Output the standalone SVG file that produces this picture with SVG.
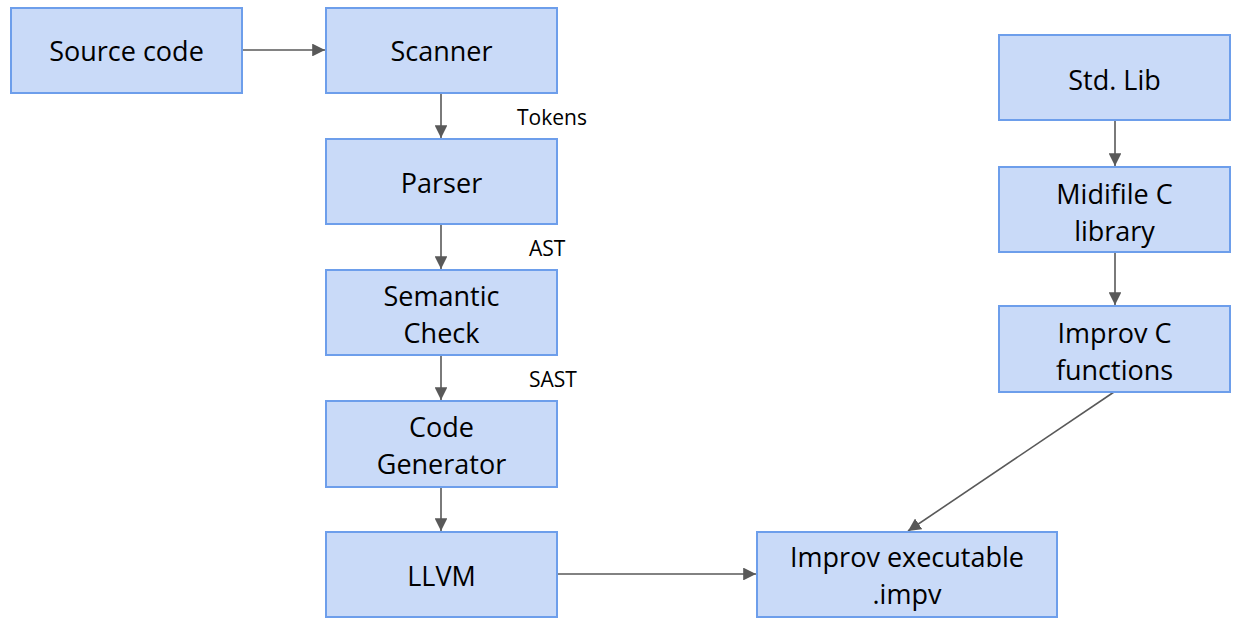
<svg xmlns="http://www.w3.org/2000/svg" width="1233" height="619" viewBox="0 0 1233 619">
<defs>
<style>
.box{fill:#c9daf8;stroke:#6d9eeb;stroke-width:2}
.t{font-family:"Open Sans","Liberation Sans",sans-serif;font-size:27px;fill:#000;text-anchor:middle;dominant-baseline:central}
.l{font-family:"Open Sans","Liberation Sans",sans-serif;font-size:21px;fill:#000;dominant-baseline:central}
.c{stroke:#595959;stroke-width:1.6;fill:none;marker-end:url(#ah)}
</style>
<marker id="ah" viewBox="0 0 10 10" refX="10" refY="5" markerWidth="8" markerHeight="8" orient="auto" markerUnits="strokeWidth">
<path d="M0,0 L10,5 L0,10 z" fill="#595959"/>
</marker>
</defs>
<rect width="1233" height="619" fill="#fff"/>
<g id="connectors">
<line class="c" x1="242" y1="50" x2="325" y2="50"/>
<line class="c" x1="441" y1="93" x2="441" y2="138"/>
<line class="c" x1="441" y1="224" x2="441" y2="269"/>
<line class="c" x1="441" y1="355" x2="441" y2="400"/>
<line class="c" x1="441" y1="487" x2="441" y2="531"/>
<line class="c" x1="557" y1="574" x2="756" y2="574"/>
<line class="c" x1="1115" y1="120" x2="1115" y2="166"/>
<line class="c" x1="1115" y1="252" x2="1115" y2="305"/>
<line class="c" x1="1114" y1="392" x2="908" y2="531"/>
<text class="l" x="517" y="117">Tokens</text>
<text class="l" x="529" y="248">AST</text>
<text class="l" x="529" y="379">SAST</text>
</g>
<g id="source"><rect class="box" x="11" y="8" width="231" height="85"/><text class="t" x="126.5" y="50">Source code</text></g>
<g id="scanner"><rect class="box" x="326" y="8" width="231" height="85"/><text class="t" x="441.5" y="50">Scanner</text></g>
<g id="parser"><rect class="box" x="326" y="139" width="231" height="85"/><text class="t" x="441.5" y="182">Parser</text></g>
<g id="semantic"><rect class="box" x="326" y="270" width="231" height="85"/><text class="t" x="441.5" y="295">Semantic</text><text class="t" x="441.5" y="332">Check</text></g>
<g id="codegen"><rect class="box" x="326" y="401" width="231" height="86"/><text class="t" x="441.5" y="426">Code</text><text class="t" x="441.5" y="463">Generator</text></g>
<g id="llvm"><rect class="box" x="326" y="532" width="231" height="85"/><text class="t" x="441.5" y="575">LLVM</text></g>
<g id="exe"><rect class="box" x="757" y="532" width="300" height="85"/><text class="t" x="907" y="556">Improv executable</text><text class="t" x="907" y="593">.impv</text></g>
<g id="stdlib"><rect class="box" x="999" y="35" width="231" height="85"/><text class="t" x="1114.5" y="79">Std. Lib</text></g>
<g id="midifile"><rect class="box" x="999" y="167" width="231" height="85"/><text class="t" x="1114.5" y="193">Midifile C</text><text class="t" x="1114.5" y="230">library</text></g>
<g id="improvc"><rect class="box" x="999" y="306" width="231" height="86"/><text class="t" x="1114.5" y="332">Improv C</text><text class="t" x="1114.5" y="369">functions</text></g>
</svg>
